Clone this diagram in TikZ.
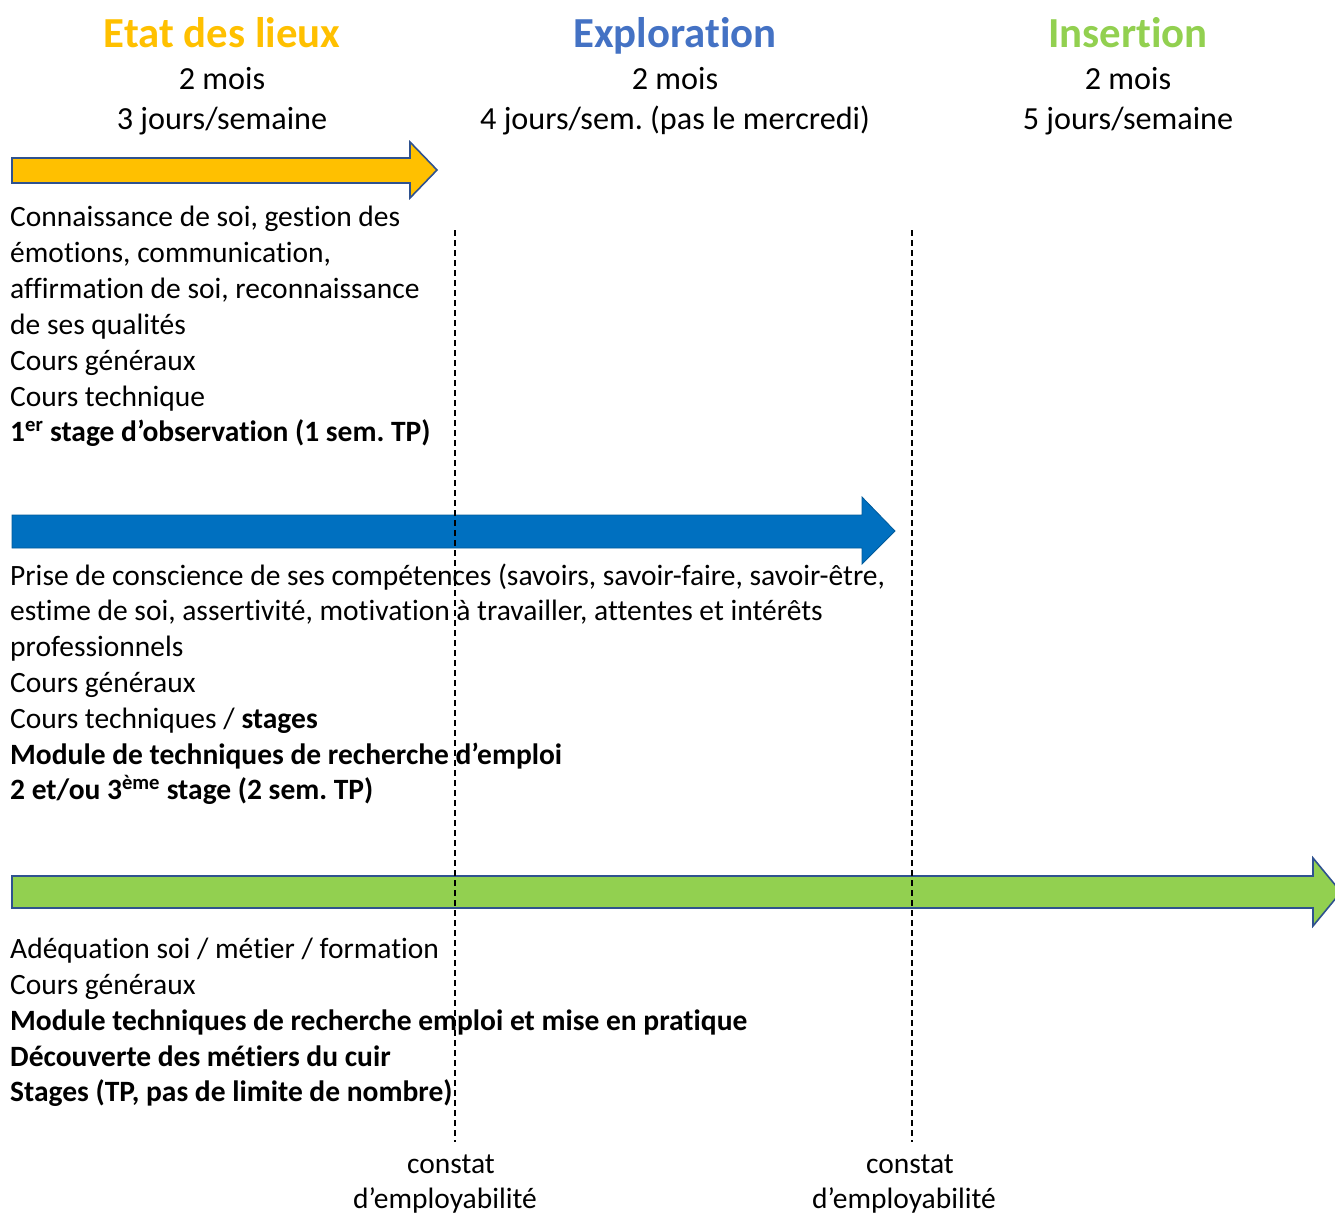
\documentclass[tikz,border=0pt]{standalone}
\usepackage{fontspec}
\setmainfont{Carlito}[Ligatures=NoCommon]
\frenchspacing
\definecolor{cyel}{HTML}{FFC000}
\definecolor{cblue}{HTML}{4472C4}
\definecolor{cgreen}{HTML}{92D050}
\definecolor{arrblue}{HTML}{0070C0}
\definecolor{edge}{HTML}{2F528F}
\tikzset{
  title/.style={font=\fontsize{42.8}{48}\selectfont\bfseries, inner sep=0pt, anchor=base},
  sub/.style={font=\fontsize{32.2}{39}\selectfont, inner sep=0pt, anchor=base},
  body/.style={font=\fontsize{29.5}{36}\selectfont, inner sep=0pt, anchor=base west},
  bodyb/.style={body, font=\fontsize{29.5}{36}\selectfont\bfseries},
  foot/.style={font=\fontsize{29.5}{36}\selectfont, inner sep=0pt, anchor=base},
  phase/.style={line width=1.6pt, draw=edge, line join=miter},
  divider/.style={line width=1.4pt, dash pattern=on 6pt off 4pt},
}
\begin{document}
\begin{tikzpicture}[x=1pt,y=-1pt]
\useasboundingbox (0,0) rectangle (1335,1212);
% titles
\node[title, text=cyel] (t1) at (222,48) {Etat des lieux};
\node[title, text=cblue] (t2) at (675,48) {Exploration};
\node[title, text=cgreen] (t3) at (1128,48) {Insertion};
\node[sub] (d1) at (222,90) {2 mois};
\node[sub] (d2) at (675,90) {2 mois};
\node[sub] (d3) at (1128,90) {2 mois};
\node[sub] (j1) at (222,129) {3 jours/semaine};
\node[sub] (j2) at (675,129) {4 jours/sem. (pas le mercredi)};
\node[sub] (j3) at (1128,129) {5 jours/semaine};
% arrows
\draw[phase, fill=cyel] (12,158) -- (410,158) -- (410,142) -- (437,170) -- (410,198) -- (410,183) -- (12,183) -- cycle;
\draw[line width=0.8pt, draw=arrblue!80!black, fill=arrblue] (12,515) -- (862,515) -- (862,497) -- (895,531) -- (862,564) -- (862,548) -- (12,548) -- cycle;
\draw[phase, fill=cgreen] (12,876) -- (1313,876) -- (1313,858) -- (1341,892) -- (1313,926) -- (1313,908) -- (12,908) -- cycle;
% block 1
\node[body] (a1) at (10,226) {Connaissance de soi, gestion des};
\node[body] (a2) at (10,262) {émotions, communication,};
\node[body] (a3) at (10,298) {affirmation de soi, reconnaissance};
\node[body] (a4) at (10,334) {de ses qualités};
\node[body] (a5) at (10,370) {Cours généraux};
\node[body] (a6) at (10,406) {Cours technique};
\node[bodyb] (a7) at (10,441) {1\textsuperscript{er} stage d’observation (1 sem. TP)};
% block 2
\node[body] (b1) at (10,585) {Prise de conscience de ses compétences (savoirs, savoir-faire, savoir-être,};
\node[body] (b2) at (10,620) {estime de soi, assertivité, motivation à travailler, attentes et intérêts};
\node[body] (b3) at (10,656) {professionnels};
\node[body] (b4) at (10,692) {Cours généraux};
\node[body] (b5) at (10,728) {Cours techniques / \textbf{stages}};
\node[bodyb] (b6) at (10,764) {Module de techniques de recherche d’emploi};
\node[bodyb] (b7) at (10,799) {2 et/ou 3\textsuperscript{ème} stage (2 sem. TP)};
% block 3
\node[body] (c1) at (10,958) {Adéquation soi / métier / formation};
\node[body] (c2) at (10,994) {Cours généraux};
\node[bodyb] (c3) at (10,1030) {Module techniques de recherche emploi et mise en pratique};
\node[bodyb] (c4) at (10,1066) {Découverte des métiers du cuir};
\node[bodyb] (c5) at (10,1101) {Stages (TP, pas de limite de nombre)};
% dividers
\coordinate (v1t) at (455,230);
\coordinate (v1b) at (455,1142);
\coordinate (v2t) at (912,230);
\coordinate (v2b) at (912,1142);
\draw[divider] (v1t) -- (v1b);
\draw[divider] (v2t) -- (v2b);
\node[foot] (k1) at (451,1173) {constat};
\node[foot] (k2) at (445,1208) {d’employabilité};
\node[foot] (k3) at (910,1173) {constat};
\node[foot] (k4) at (904,1208) {d’employabilité};
\end{tikzpicture}
\end{document}
